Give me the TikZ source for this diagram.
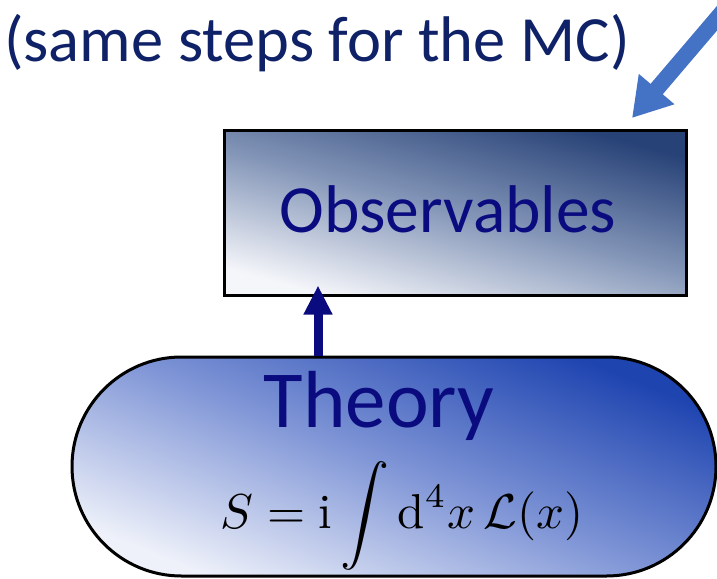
\documentclass[tikz,border=0pt]{standalone}
\usepackage{fontspec}
\newfontfamily\carlito{Carlito}
\usetikzlibrary{arrows.meta,shapes.misc,calc}
\definecolor{navytxt}{HTML}{0F2167}
\definecolor{navyb}{HTML}{0B0B80}
\definecolor{arrowblue}{HTML}{4472C4}
\definecolor{boxdark}{HTML}{274277}
\definecolor{boxmid}{HTML}{8496B8}
\definecolor{boxlight}{HTML}{F5F6FA}
\definecolor{thdark}{HTML}{1E44B0}
\definecolor{thmid}{HTML}{7F95D6}
\definecolor{thlight}{HTML}{EEF1FA}
\tikzset{
  obsbox/.style={draw=black, line width=3pt, minimum width=462pt, minimum height=165pt,
    top color=boxdark, bottom color=boxlight, middle color=boxmid, shading angle=-15, inner sep=0pt},
  theorybox/.style={rounded rectangle, draw=black, line width=3pt, minimum width=644pt, minimum height=219pt,
    top color=thdark, bottom color=thlight, middle color=thmid, shading angle=-22, inner sep=0pt},
  bigtext/.style={text=navyb, inner sep=0pt, anchor=base, font=\carlito},
  uparrow/.style={navyb, line width=9pt, -{Triangle[width=27pt,length=29pt]}},
  bluearrow/.style={arrowblue, line width=16pt, -{Triangle[width=44pt,length=38pt]}}
}
\begin{document}
\begin{tikzpicture}[x=1pt,y=-1pt]
\useasboundingbox (0,0) rectangle (717,578);
% title
\node[inner sep=0pt, anchor=base west, text=navytxt, font=\carlito\fontsize{64.5}{72}\selectfont] (title) at (4,62) {(same steps for the MC)};
% boxes
\node[obsbox] (obs) at (455,212.5) {};
\node[theorybox] (theory) at (394,466.5) {};
% texts
\node[bigtext, font=\carlito\fontsize{67.5}{74}\selectfont] (obstext) at (448,232) {Observables};
\node[bigtext, font=\carlito\fontsize{81}{90}\selectfont] (thtext) at (379,427) {Theory};
\node[inner sep=0pt, anchor=base, scale=4.9] (formula) at (402,528) {$\displaystyle S=\mathrm{i}\int \mathrm{d}^4x\,\mathcal{L}(x)$};
% arrows
\coordinate (ax) at (318,0);
\draw[uparrow] (theory.north -| ax) -- ($(obs.south -| ax)+(0,-11)$);
\coordinate (bstart) at (724,10);
\coordinate (btip) at (632,118);
\draw[bluearrow] (bstart) -- (btip);
\end{tikzpicture}
\end{document}
